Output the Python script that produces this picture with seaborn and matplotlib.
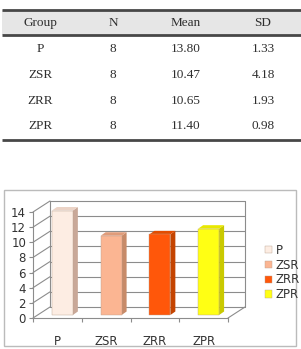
import matplotlib
matplotlib.use("Agg")
import matplotlib.pyplot as plt
import matplotlib.transforms as mtransforms
from matplotlib.patches import Polygon, Rectangle
from matplotlib.lines import Line2D
import pandas as pd
import seaborn as sns

# table / chart data
groups = ["P", "ZSR", "ZRR", "ZPR"]
n_values = [8, 8, 8, 8]
means = [13.80, 10.47, 10.65, 11.40]
sds = [1.33, 4.18, 1.93, 0.98]
header = ["Group", "N", "Mean", "SD"]
y_ticks = [0, 2, 4, 6, 8, 10, 12, 14]

front_colors = ["#FDEDE3", "#FBB592", "#FF570A", "#FFFF14"]
side_colors = ["#C9A898", "#C78A68", "#C44400", "#C9C900"]
top_colors = ["#EBD3C6", "#E09C7A", "#E24C00", "#E8E800"]

W, H = 301, 349
sns.set_theme(style="white")
fig = plt.figure(figsize=(W / 100, H / 100), dpi=100)
fig.patch.set_facecolor("white")

# ---------- table (pixel coordinates) ----------
tab = fig.add_axes([0, 0, 1, 1])
tab.set_xlim(0, W)
tab.set_ylim(H, 0)
tab.set_axis_off()

col_x = [40, 113, 186, 263]
row_y = [49, 75, 101, 126]
tab.add_patch(Rectangle((2, 10), 299, 25, facecolor="#E6E6E6", edgecolor="none"))
for yy in (9.5, 35, 140):
    tab.plot([2, 301], [yy, yy], color="#474747", lw=2.0, solid_capstyle="butt")

serif = dict(family="Liberation Serif", fontsize=9.5, color="#2E2E2E",
             ha="center", va="center")
for cx, h in zip(col_x, header):
    tab.text(cx, 23, h, **serif)
for ry, g, n, m, s in zip(row_y, groups, n_values, means, sds):
    tab.text(col_x[0], ry, g, **serif)
    tab.text(col_x[1], ry, str(n), **serif)
    tab.text(col_x[2], ry, f"{m:.2f}", **serif)
    tab.text(col_x[3], ry, f"{s:.2f}", **serif)

# outer chart frame
tab.add_patch(Rectangle((3.5, 189.5), 292.5, 156, facecolor="none",
                        edgecolor="#BBBBBB", lw=1.0))

# ---------- chart ----------
x0, x1 = 33, 228     # front left / right pixel
y0, y1 = 318, 212    # pixel rows for 0 and 14 on the front plane
ax = fig.add_axes([x0 / W, (H - y0) / H, (x1 - x0) / W, (y0 - y1) / H])
ax.set_facecolor("none")

df = pd.DataFrame({"Group": groups, "Mean": means})
sns.barplot(data=df, x="Group", y="Mean", hue="Group", palette=front_colors,
            dodge=False, width=0.43, legend=True, ax=ax, saturation=1,
            edgecolor="#B8A090", linewidth=0.3, zorder=3)
ax.set_xlim(-0.5, 3.5)
ax.set_ylim(0, 14)
ax.set_xlabel("")
ax.set_ylabel("")

depth = (17, 11)      # back-wall offset in pixels
bar_off = (5, 3)      # bar front offset
bar_depth = (5, 3.5)
ident = mtransforms.IdentityTransform()


def proj(x, y, dx=0.0, dy=0.0):
    px, py = ax.transData.transform((x, y))
    return (px + dx, py + dy)


def seg(p, q, color="#8C8C8C", lw=0.8, z=1):
    ax.add_line(Line2D([p[0], q[0]], [p[1], q[1]], color=color, lw=lw,
                       transform=ident, clip_on=False, zorder=z))


# back wall grid, side wall diagonals
for t in y_ticks:
    seg(proj(-0.5, t, *depth), proj(3.5, t, *depth))
    seg(proj(-0.5, t), proj(-0.5, t, *depth))
seg(proj(-0.5, 0, *depth), proj(-0.5, 14, *depth))
seg(proj(3.5, 0, *depth), proj(3.5, 14, *depth))
seg(proj(3.5, 0), proj(3.5, 0, *depth))

# bars: shift front faces and add side / top faces
bars = [p for c in ax.containers for p in c if p.get_height() > 0]
bars.sort(key=lambda p: p.get_x())
for i, p in enumerate(bars):
    p.set_transform(ax.transData + mtransforms.ScaledTranslation(
        bar_off[0] / 100, bar_off[1] / 100, fig.dpi_scale_trans))
    p.set_clip_on(False)
    bx, bw, bh = p.get_x(), p.get_width(), p.get_height()
    ox, oy = bar_off
    dx, dy = bar_depth
    fl = proj(bx, bh, ox, oy)
    fr = proj(bx + bw, bh, ox, oy)
    br = proj(bx + bw, 0, ox, oy)
    side = [br, fr, (fr[0] + dx, fr[1] + dy), (br[0] + dx, br[1] + dy)]
    top = [fl, fr, (fr[0] + dx, fr[1] + dy), (fl[0] + dx, fl[1] + dy)]
    ax.add_patch(Polygon(side, closed=True, facecolor=side_colors[i],
                         edgecolor="none", transform=ident, clip_on=False, zorder=2.5))
    ax.add_patch(Polygon(top, closed=True, facecolor=top_colors[i],
                         edgecolor="none", transform=ident, clip_on=False, zorder=2.5))

# axes styling
for s in ("top", "right"):
    ax.spines[s].set_visible(False)
for s in ("left", "bottom"):
    ax.spines[s].set_color("#8C8C8C")
    ax.spines[s].set_linewidth(0.8)
ax.set_yticks(y_ticks)
ax.tick_params(axis="y", length=3, width=0.8, color="#8C8C8C", pad=2,
               labelsize=8.5, labelcolor="#333333", left=True)
ax.set_xticks(range(len(groups)))
ax.set_xticklabels(groups)
ax.tick_params(axis="x", which="major", length=0, pad=12, labelsize=8.5,
               labelcolor="#333333")
ax.set_xticks([-0.5, 0.5, 1.5, 2.5, 3.5], minor=True)
ax.tick_params(axis="x", which="minor", length=3, width=0.8, color="#8C8C8C",
               bottom=True)
for lab in ax.get_xticklabels() + ax.get_yticklabels():
    lab.set_family("DejaVu Sans")

leg = ax.legend(loc="upper left", bbox_to_anchor=(259 / W, (H - 238) / H),
                bbox_transform=fig.transFigure, frameon=False, fontsize=8.5,
                handlelength=0.6, handleheight=0.6, handletextpad=0.3,
                labelspacing=0.15, borderpad=0)
for txt in leg.get_texts():
    txt.set_color("#333333")

fig.savefig("out.png", dpi=100)
